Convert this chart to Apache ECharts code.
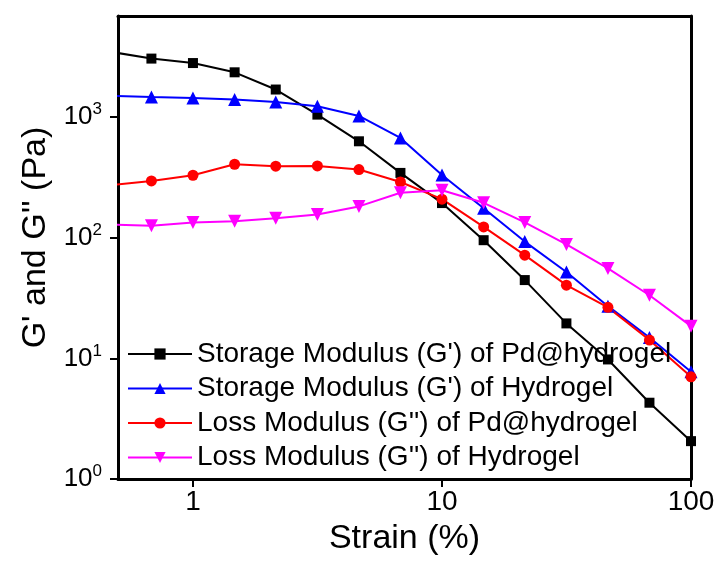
<!DOCTYPE html>
<html>
<head>
<meta charset="utf-8">
<script src="https://cdn.jsdelivr.net/npm/echarts@6/dist/echarts.min.js"></script>
<style>
  html, body { margin: 0; padding: 0; background: #fff; }
  #chart { width: 720px; height: 563px; }
</style>
</head>
<body>
<div id="chart"></div>
<script>
// strain (%) values, log spaced
const strain = [0.464, 0.681, 1.0, 1.47, 2.15, 3.16, 4.64, 6.81, 10.0, 14.7, 21.5, 31.6, 46.4, 68.1, 100]

const storagePd = [3490, 3060, 2810, 2355, 1695, 1050, 631, 345, 194, 95.5, 44.6, 19.5, 9.8, 4.29, 2.06]
const storageGel = [1500, 1470, 1443, 1400, 1337, 1230, 1024, 673, 332, 176, 93, 52, 27.1, 14.9, 7.74]
const lossPd = [272, 296, 330, 407, 392, 394, 368, 290, 209, 123, 71.8, 40.5, 26.5, 14.2, 7.04]
const lossGel = [129, 126, 134, 137, 145, 156, 182, 236, 248, 195, 134, 88, 55.7, 33.4, 18.5]

// tick positions
const xTicks = [1, 10, 100]
const yTicks = [1, 10, 100, 1000]

const seriesNames = [
  "Storage Modulus (G') of Pd@hydrogel",
  "Storage Modulus (G') of Hydrogel",
  "Loss Modulus (G'') of Pd@hydrogel",
  "Loss Modulus (G'') of Hydrogel"
]

const FONT = "'Liberation Sans', Arial, sans-serif"

function pairs(ys) {
  return strain.map((x, i) => [x, ys[i]])
}

function isDecade(v) {
  const e = Math.log10(v)
  return Math.abs(e - Math.round(e)) < 1e-6
}

function makeSeries(name, ys, color, symbol, size, rotate) {
  return {
    name: name,
    type: 'line',
    data: pairs(ys),
    symbol: symbol,
    symbolSize: size,
    symbolRotate: rotate || 0,
    clip: true,
    lineStyle: { color: color, width: 2 },
    itemStyle: { color: color },
    emphasis: { disabled: true }
  }
}

const chart = echarts.init(document.getElementById('chart'))
chart.setOption({
  backgroundColor: '#fff',
  animation: false,
  textStyle: { fontFamily: FONT },
  grid: { left: 118, right: 29, top: 16, bottom: 84 },
  legend: {
    data: seriesNames,
    orient: 'vertical',
    left: 122,
    top: 335,
    itemWidth: 64,
    itemHeight: 14,
    itemGap: 6.5,
    textStyle: { fontSize: 28, color: '#000', fontFamily: FONT, lineHeight: 28 }
  },
  xAxis: [{
    type: 'log',
    logBase: 10,
    min: 0.5,
    max: 100,
    name: 'Strain (%)',
    nameLocation: 'middle',
    nameGap: 43,
    nameTextStyle: { fontSize: 34, color: '#000', fontFamily: FONT },
    axisLine: { lineStyle: { color: '#000', width: 3 } },
    axisTick: { show: true, inside: false, length: 8, customValues: xTicks, lineStyle: { width: 2, color: '#000' } },
    minorTick: { show: false },
    splitLine: { show: false },
    axisLabel: {
      margin: 9,
      fontSize: 28,
      color: '#000',
      fontFamily: FONT,
      customValues: xTicks,
      formatter: v => isDecade(v) ? String(Math.round(v)) : ''
    }
  }, {
    type: 'log',
    logBase: 10,
    min: 0.5,
    max: 100,
    position: 'top',
    axisLine: { lineStyle: { color: '#000', width: 3 } },
    axisTick: { show: false },
    axisLabel: { show: false },
    splitLine: { show: false }
  }],
  yAxis: [{
    type: 'log',
    logBase: 10,
    min: 1,
    max: 6900,
    name: "G' and G'' (Pa)",
    nameLocation: 'middle',
    nameGap: 65,
    nameTextStyle: { fontSize: 34, color: '#000', fontFamily: FONT, padding: [0, 0, 0, 20] },
    axisLine: { lineStyle: { color: '#000', width: 3 } },
    axisTick: { show: true, inside: false, length: 8, customValues: yTicks, lineStyle: { width: 2, color: '#000' } },
    minorTick: { show: false },
    splitLine: { show: false },
    axisLabel: {
      margin: 16,
      color: '#000',
      fontFamily: FONT,
      fontSize: 26,
      customValues: yTicks,
      formatter: v => isDecade(v) ? '{b|10}{s|' + Math.round(Math.log10(v)) + '}' : '',
      rich: {
        b: { fontSize: 26, color: '#000', fontFamily: FONT },
        s: { fontSize: 17, color: '#000', fontFamily: FONT, padding: [0, 0, 15, 0] }
      }
    }
  }, {
    type: 'log',
    logBase: 10,
    min: 1,
    max: 6900,
    position: 'right',
    axisLine: { lineStyle: { color: '#000', width: 3 } },
    axisTick: { show: false },
    axisLabel: { show: false },
    splitLine: { show: false }
  }],
  series: [
    makeSeries(seriesNames[0], storagePd, '#000000', 'rect', 10),
    makeSeries(seriesNames[1], storageGel, '#0000ff', 'triangle', 13),
    makeSeries(seriesNames[2], lossPd, '#ff0000', 'circle', 11),
    makeSeries(seriesNames[3], lossGel, '#ff00ff', 'triangle', 13, 180)
  ]
})
</script>
</body>
</html>
